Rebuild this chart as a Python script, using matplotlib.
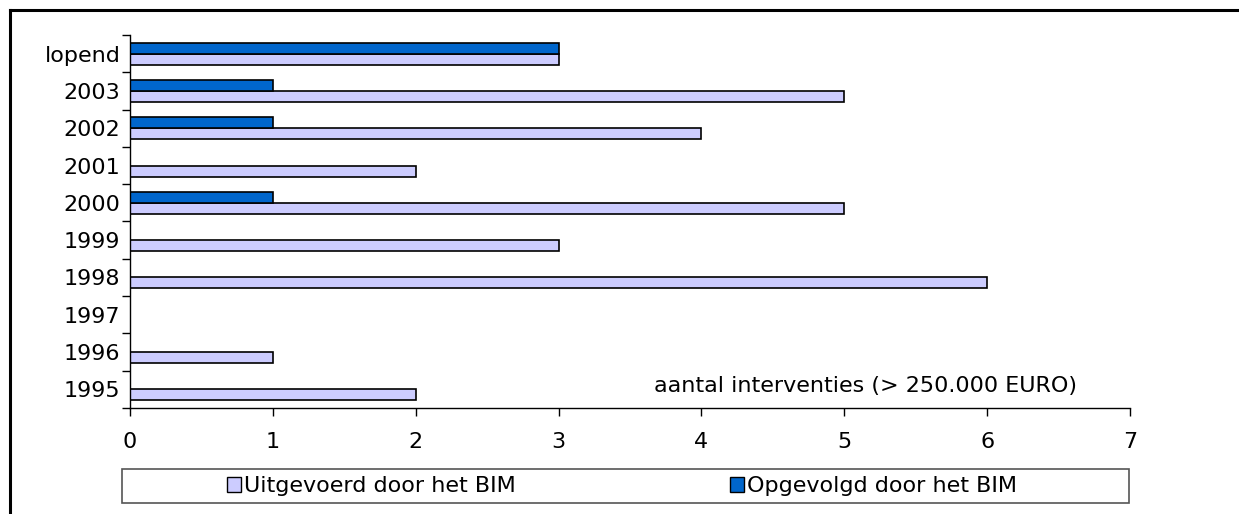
import matplotlib
matplotlib.use("Agg")
import matplotlib.pyplot as plt
import numpy as np
from matplotlib.lines import Line2D
from matplotlib.patches import Patch, Rectangle

categories = ["1995", "1996", "1997", "1998", "1999", "2000", "2001", "2002", "2003", "lopend"]
uitgevoerd = [2, 1, 0, 6, 3, 5, 2, 4, 5, 3]
opgevolgd = [0, 0, 0, 0, 0, 1, 0, 1, 1, 3]

LIGHT = "#CCCCFF"
DARK = "#0066CC"
FS = 16

plt.rcParams["font.family"] = ["DejaVu Sans"]

W, H = 1239, 514
fig = plt.figure(figsize=(W / 100, H / 100), dpi=100)

# axes in pixel coordinates: x 130..1130, y 35..408
ax = fig.add_axes([130 / W, 1 - 408 / H, 1000 / W, 373 / H])

y = np.arange(len(categories))
bh = 0.295
ax.barh(y - bh / 2, uitgevoerd, height=bh, color=LIGHT, edgecolor="black", linewidth=1.2)
ax.barh(y + bh / 2, opgevolgd, height=bh, color=DARK, edgecolor="black", linewidth=1.2)

ax.set_xlim(0, 7)
ax.set_ylim(-0.5, len(categories) - 0.5)
ax.set_xticks(range(8))
ax.tick_params(axis="x", direction="out", length=6, width=1, labelsize=FS, pad=11)
ax.set_yticks(y)
ax.set_yticklabels(categories)
ax.tick_params(axis="y", which="major", length=0, labelsize=FS, pad=7)
ax.set_yticks(np.arange(-0.5, len(categories)), minor=True)
ax.tick_params(axis="y", which="minor", direction="out", length=6, width=1)
for side in ("top", "right"):
    ax.spines[side].set_visible(False)
for side in ("left", "bottom"):
    ax.spines[side].set_linewidth(1)

ax.text(0.736, 0.06, "aantal interventies (> 250.000 EURO)", transform=ax.transAxes,
        ha="center", va="center", fontsize=FS)

# legend box
fig.add_artist(Rectangle((122 / W, 1 - 503 / H), 1007 / W, 34 / H, transform=fig.transFigure,
                         facecolor="white", edgecolor="#555555", linewidth=1.2))
handles = [Patch(facecolor=LIGHT, edgecolor="black", label="Uitgevoerd door het BIM"),
           Patch(facecolor=DARK, edgecolor="black", label="Opgevolgd door het BIM")]
fig.legend(handles=handles, loc="center", ncol=2, fontsize=FS,
           bbox_to_anchor=(622 / W, 1 - 486 / H), frameon=False, borderaxespad=0,
           handlelength=0.65, handleheight=0.65, handletextpad=0.15, columnspacing=9.6)

# outer frame (only top and left edges visible)
fig.add_artist(Line2D([9.5 / W, 1], [1 - 9.5 / H, 1 - 9.5 / H], color="black", linewidth=2.2))
fig.add_artist(Line2D([9.5 / W, 9.5 / W], [0, 1 - 9.5 / H], color="black", linewidth=2.2))

fig.savefig("out.png", dpi=100)
